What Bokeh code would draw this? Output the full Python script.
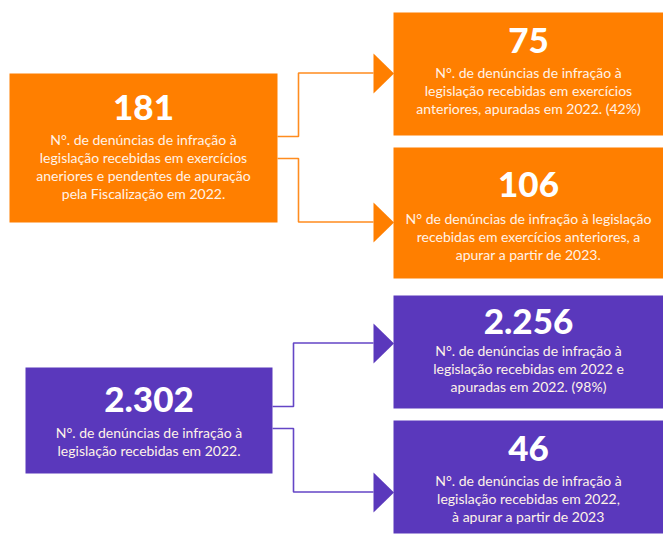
from bokeh.plotting import figure
from bokeh.models import Range1d
from bokeh.core.properties import value
from bokeh.embed import file_html
from bokeh.resources import INLINE

# ---- data ----
numbers = ["181", "75", "106", "2.302", "2.256", "46"]
descriptions = [
    ["N°. de denúncias de infração à", "legislação recebidas em exercícios",
     "aneriores e pendentes de apuração", "pela Fiscalização em 2022."],
    ["N°. de denúncias de infração à", "legislação recebidas em exercícios",
     "anteriores, apuradas em 2022. (42%)"],
    ["N° de denúncias de infração à legislação", "recebidas em exercícios anteriores, a",
     "apurar a partir de 2023."],
    ["N°. de denúncias de infração à", "legislação recebidas em 2022."],
    ["N°. de denúncias de infração à", "legislação recebidas em 2022 e",
     "apuradas em 2022. (98%)"],
    ["N°. de denúncias de infração à", "legislação recebidas em 2022,",
     "à apurar a partir de 2023"],
]
groups = ["orange", "orange", "orange", "purple", "purple", "purple"]

# ---- layout (pixel geometry of the diagram) ----
boxes = [  # left, right, top, bottom, number baseline, first text baseline
    (9, 277, 73, 222, 119, 144),
    (393, 663, 12, 135, 52, 77),
    (393, 663, 147, 278, 196, 223),
    (25, 272, 367, 473, 411, 437),
    (393, 663, 295, 408, 333, 355),
    (393, 663, 420, 533, 460, 485),
]
line_step = 18.3
num_size, txt_size = 35, 14
num_shift, txt_shift = 12.5, 5.5   # renderer baseline correction
colors = {"orange": "#FF7F00", "purple": "#5A38BC"}
link_colors = {"orange": "#FF8C1F", "purple": "#6446C6"}
# connectors: (source box, target box, y at source, mid x, arrow tip y)
links = [(0, 1, 136, 298, 73), (0, 2, 158, 298, 222), (3, 4, 406, 293, 343), (3, 5, 428, 293, 492)]
arrow_len = 20
arrow_half = 20

W, H = 663, 534
p = figure(width=W, height=H, x_range=Range1d(0, W), y_range=Range1d(H, 0),
           output_backend="svg", toolbar_location=None, min_border=0)
p.axis.visible = False
p.grid.visible = False
p.outline_line_color = None
p.background_fill_color = "white"
p.border_fill_color = "white"

# boxes
for (l, r, t, b, nb, tb), g in zip(boxes, groups):
    p.quad(left=l, right=r, top=t, bottom=b, fill_color=colors[g], line_color=None)

# connectors and arrows
for s, tg, ys, mx, tip_y in links:
    g = groups[s]
    sr = boxes[s][1]
    tl = boxes[tg][0]
    xa = tl - arrow_len
    p.line(x=[sr, mx, mx, xa], y=[ys, ys, tip_y - 0.5, tip_y - 0.5],
           line_color=link_colors[g], line_width=1.6)
    p.patch(x=[xa, tl + 0.5, xa], y=[tip_y - arrow_half, tip_y, tip_y + arrow_half],
            fill_color=colors[g], line_color=None)

# texts
for (l, r, t, b, nb, tb), num, desc in zip(boxes, numbers, descriptions):
    cx = (l + r) / 2
    p.text(x=[cx], y=[nb - num_shift], text=[num], text_align="center",
           text_baseline="alphabetic",
           text_font=value("'Lato Black', Lato"), text_font_style="bold",
           text_font_size=f"{num_size}px", text_color="white")
    ys = [tb - txt_shift + i * line_step for i in range(len(desc))]
    p.text(x=[cx] * len(desc), y=ys, text=desc, text_align="center",
           text_baseline="alphabetic", text_font=value("Lato"),
           text_font_size=f"{txt_size}px", text_color="#FFF3E8")

open("out.html", "w").write(file_html(p, INLINE))
